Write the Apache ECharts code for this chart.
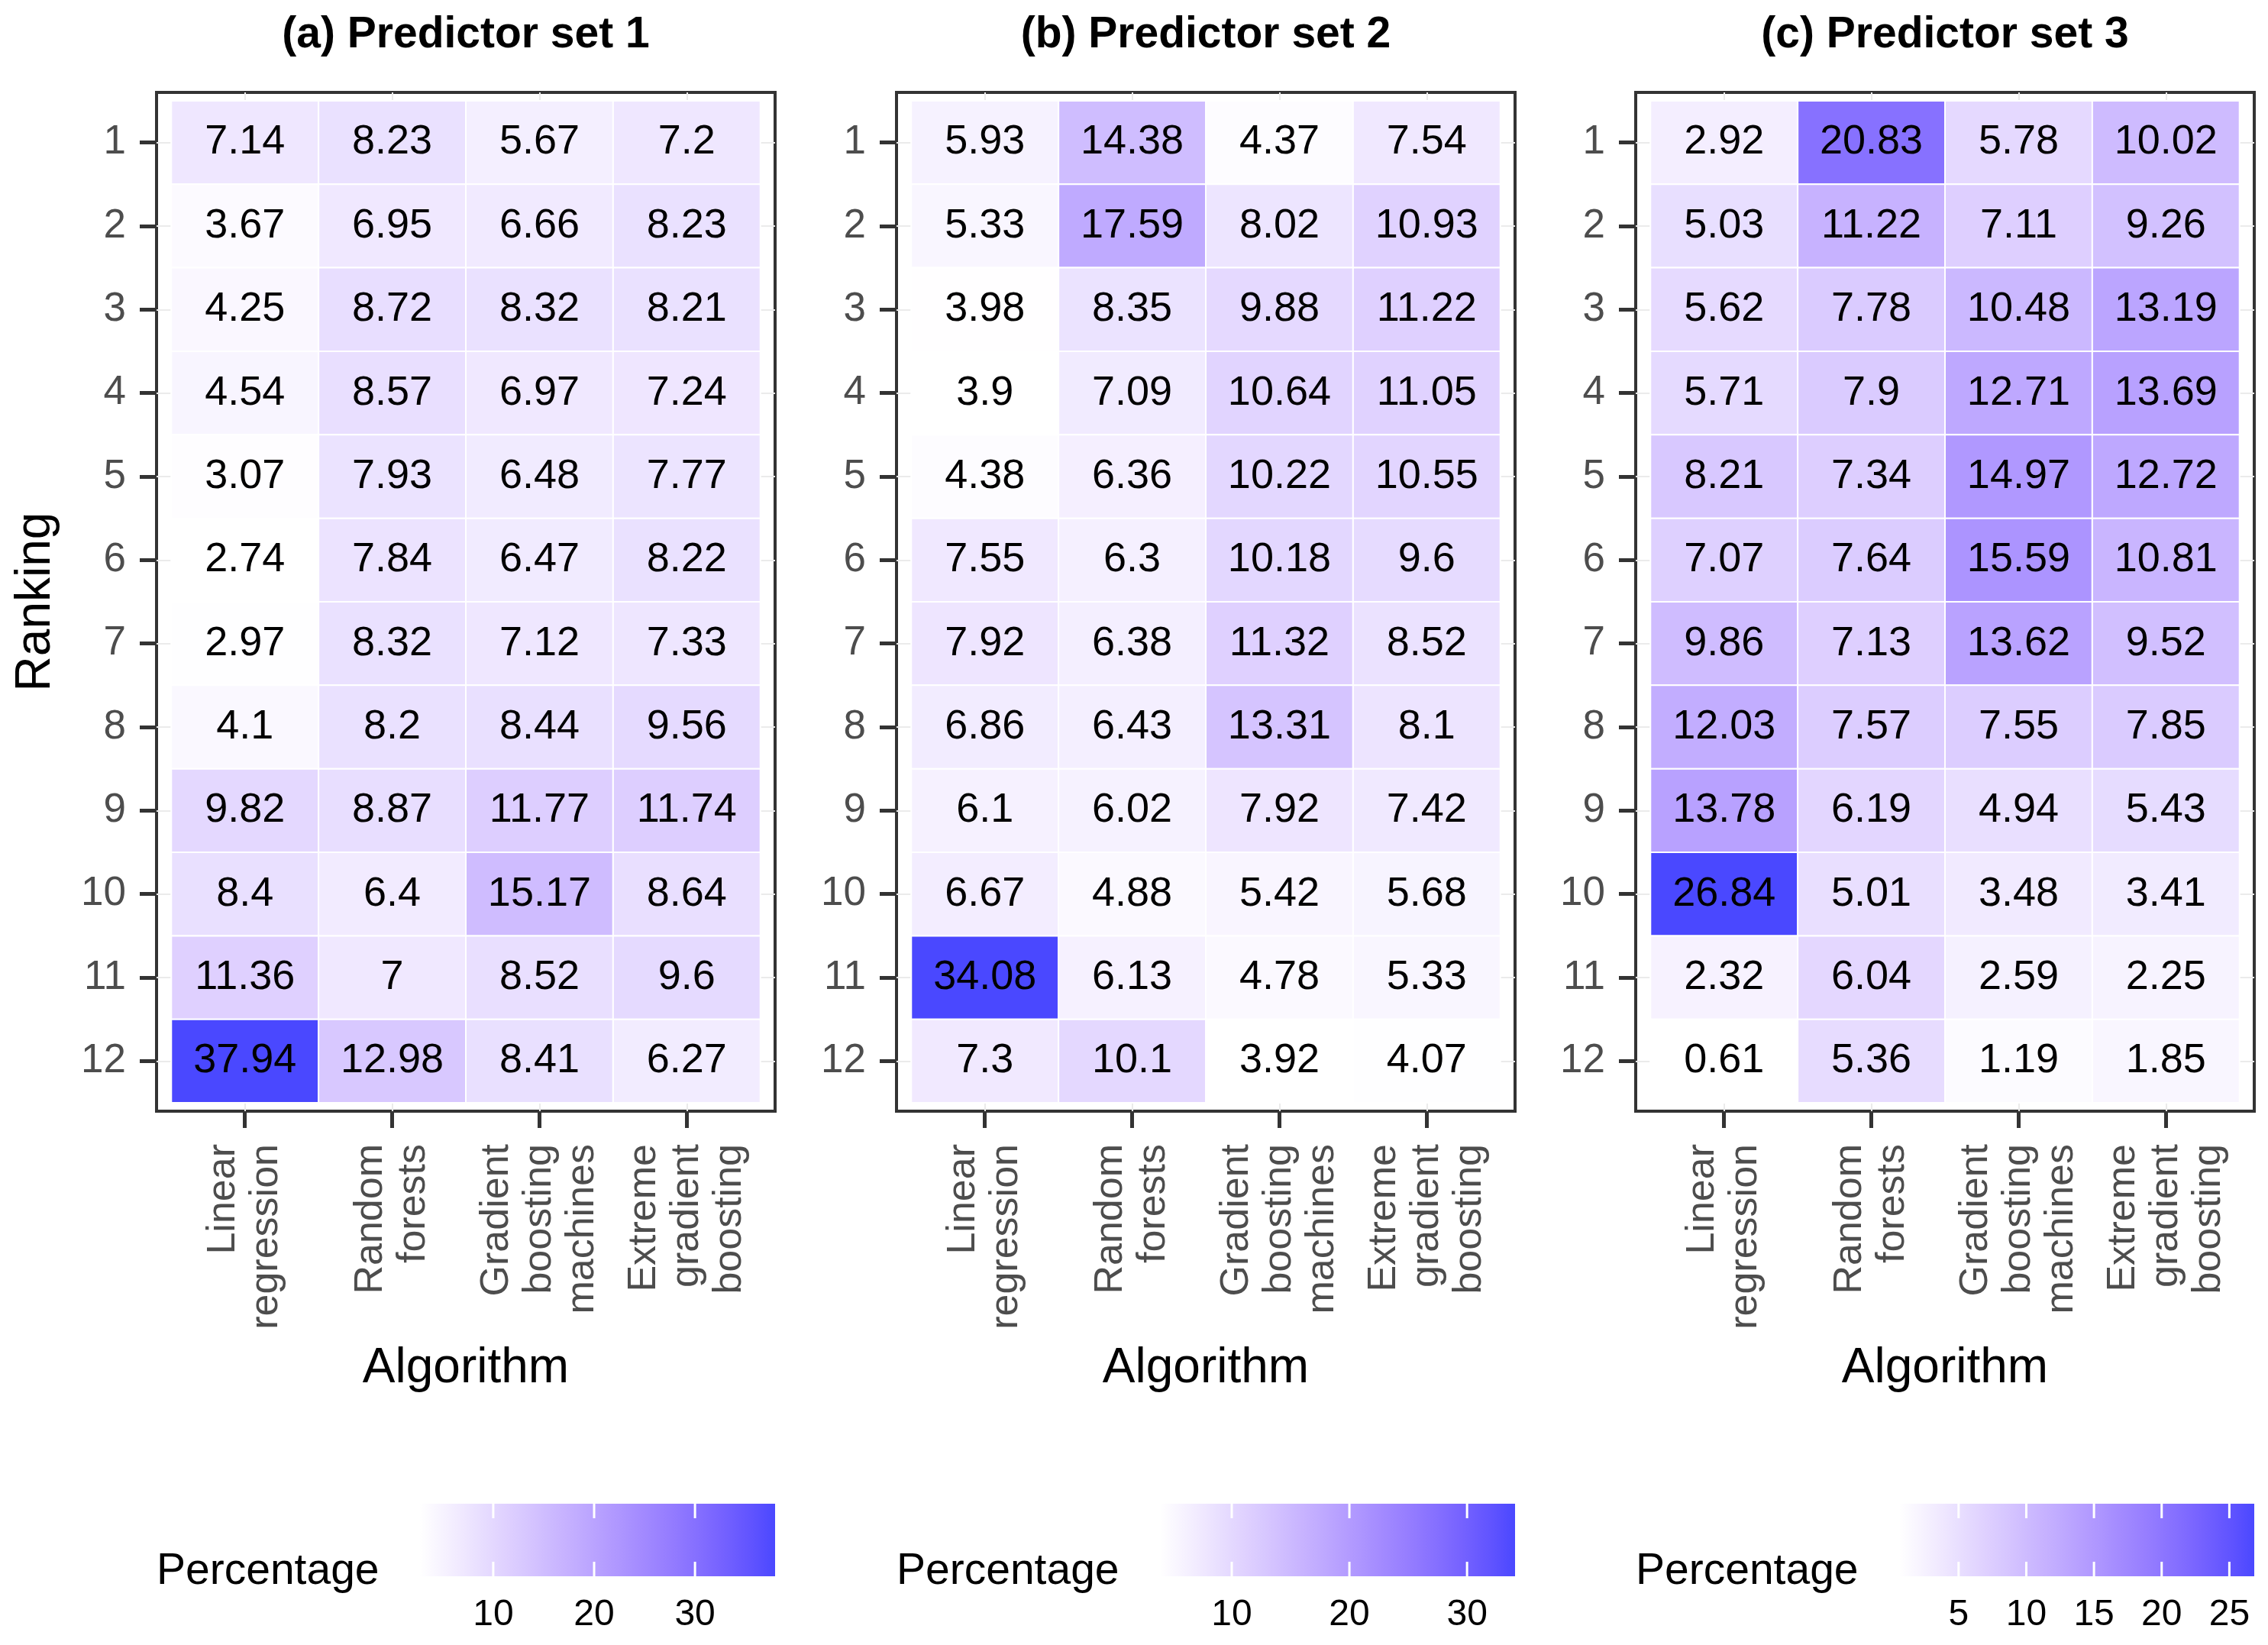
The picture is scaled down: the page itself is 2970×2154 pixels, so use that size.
<!DOCTYPE html>
<html><head><meta charset="utf-8">
<script src="https://cdn.jsdelivr.net/npm/echarts@6/dist/echarts.min.js"></script>
<style>html,body{margin:0;padding:0;background:#fff}#c{width:2970px;height:2154px}</style>
</head><body><div id="c"></div>
<script>
const FONT = 'Liberation Sans, Arial, Helvetica, sans-serif';
const panelTitles = ['(a) Predictor set 1', '(b) Predictor set 2', '(c) Predictor set 3'];
const algorithms = ['Linear\nregression', 'Random\nforests', 'Gradient\nboosting\nmachines', 'Extreme\ngradient\nboosting'];
const rankings = ['1','2','3','4','5','6','7','8','9','10','11','12'];
const legendTicks1 = [10, 20, 30];
const legendTicks2 = [10, 20, 30];
const legendTicks3 = [5, 10, 15, 20, 25];

// Predictor set 1 (rows = ranking 1..12)
const set1Linear = [7.14, 3.67, 4.25, 4.54, 3.07, 2.74, 2.97, 4.1, 9.82, 8.4, 11.36, 37.94];
const set1Random = [8.23, 6.95, 8.72, 8.57, 7.93, 7.84, 8.32, 8.2, 8.87, 6.4, 7, 12.98];
const set1Gbm    = [5.67, 6.66, 8.32, 6.97, 6.48, 6.47, 7.12, 8.44, 11.77, 15.17, 8.52, 8.41];
const set1Xgb    = [7.2, 8.23, 8.21, 7.24, 7.77, 8.22, 7.33, 9.56, 11.74, 8.64, 9.6, 6.27];
// Predictor set 2
const set2Linear = [5.93, 5.33, 3.98, 3.9, 4.38, 7.55, 7.92, 6.86, 6.1, 6.67, 34.08, 7.3];
const set2Random = [14.38, 17.59, 8.35, 7.09, 6.36, 6.3, 6.38, 6.43, 6.02, 4.88, 6.13, 10.1];
const set2Gbm    = [4.37, 8.02, 9.88, 10.64, 10.22, 10.18, 11.32, 13.31, 7.92, 5.42, 4.78, 3.92];
const set2Xgb    = [7.54, 10.93, 11.22, 11.05, 10.55, 9.6, 8.52, 8.1, 7.42, 5.68, 5.33, 4.07];
// Predictor set 3
const set3Linear = [2.92, 5.03, 5.62, 5.71, 8.21, 7.07, 9.86, 12.03, 13.78, 26.84, 2.32, 0.61];
const set3Random = [20.83, 11.22, 7.78, 7.9, 7.34, 7.64, 7.13, 7.57, 6.19, 5.01, 6.04, 5.36];
const set3Gbm    = [5.78, 7.11, 10.48, 12.71, 14.97, 15.59, 13.62, 7.55, 4.94, 3.48, 2.59, 1.19];
const set3Xgb    = [10.02, 9.26, 13.19, 13.69, 12.72, 10.81, 9.52, 7.85, 5.43, 3.41, 2.25, 1.85];

const sets = [
  [set1Linear, set1Random, set1Gbm, set1Xgb],
  [set2Linear, set2Random, set2Gbm, set2Xgb],
  [set3Linear, set3Random, set3Gbm, set3Xgb]
];
const legendTicks = [legendTicks1, legendTicks2, legendTicks3];

// ---- colour scale: white -> blue, interpolated in CIE Lab ----
function toLin(c) { c /= 255; return c <= 0.04045 ? c / 12.92 : Math.pow((c + 0.055) / 1.055, 2.4); }
function fromLin(c) { c = Math.max(0, Math.min(1, c)); return Math.round(255 * (c <= 0.0031308 ? 12.92 * c : 1.055 * Math.pow(c, 1 / 2.4) - 0.055)); }
const WX = 0.95047, WY = 1, WZ = 1.08883;
function hexToLab(hex) {
  const r = toLin(parseInt(hex.slice(1, 3), 16)), g = toLin(parseInt(hex.slice(3, 5), 16)), b = toLin(parseInt(hex.slice(5, 7), 16));
  const X = 0.4124 * r + 0.3576 * g + 0.1805 * b, Y = 0.2126 * r + 0.7152 * g + 0.0722 * b, Z = 0.0193 * r + 0.1192 * g + 0.9505 * b;
  const f = t => t > 0.008856 ? Math.cbrt(t) : 7.787 * t + 16 / 116;
  const fx = f(X / WX), fy = f(Y / WY), fz = f(Z / WZ);
  return [116 * fy - 16, 500 * (fx - fy), 200 * (fy - fz)];
}
function labToHex(L, a, b) {
  const fy = (L + 16) / 116, fx = fy + a / 500, fz = fy - b / 200;
  const finv = t => t * t * t > 0.008856 ? t * t * t : (t - 16 / 116) / 7.787;
  const X = WX * finv(fx), Y = WY * finv(fy), Z = WZ * finv(fz);
  const r = 3.2406 * X - 1.5372 * Y - 0.4986 * Z;
  const g = -0.9689 * X + 1.8758 * Y + 0.0415 * Z;
  const bb = 0.0557 * X - 0.2040 * Y + 1.0570 * Z;
  const h = v => fromLin(v).toString(16).padStart(2, '0');
  return '#' + h(r) + h(g) + h(bb);
}
const LOW = '#ffffff', HIGH = '#4a48ff';
const labLow = hexToLab(LOW), labHigh = hexToLab(HIGH);
const N_STOPS = 33;
const colorStops = [];
for (let i = 0; i < N_STOPS; i++) {
  const t = i / (N_STOPS - 1);
  colorStops.push(labToHex(labLow[0] + (labHigh[0] - labLow[0]) * t, labLow[1] + (labHigh[1] - labLow[1]) * t, labLow[2] + (labHigh[2] - labLow[2]) * t));
}

// ---- layout ----
const BOX_LEFT = [205, 1174, 2142];
const BOX_W = 810, BOX_TOP = 121, BOX_H = 1334;
const BAR_W = 465, BAR_TOP = 1969, BAR_H = 95, BAR_TICK = 19;

const grid = [], xAxis = [], yAxis = [], series = [], visualMap = [], graphic = [];

function tileRenderer(params, api) {
  const x = api.value(0), y = api.value(1), v = api.value(2);
  const p0 = api.coord([x - 0.5, y - 0.5]);
  const p1 = api.coord([x + 0.5, y + 0.5]);
  const c = api.coord([x, y]);
  return {
    type: 'group',
    children: [
      { type: 'rect', shape: { x: Math.min(p0[0], p1[0]), y: Math.min(p0[1], p1[1]), width: Math.abs(p1[0] - p0[0]), height: Math.abs(p1[1] - p0[1]) },
        style: { fill: api.visual('color'), stroke: '#ffffff', lineWidth: 2 } },
      { type: 'text', x: c[0], y: c[1],
        style: { text: String(v), align: 'center', verticalAlign: 'middle', fontSize: 54, fontFamily: FONT, fill: '#000000' } }
    ]
  };
}

const gradientFill = {
  type: 'linear', x: 0, y: 0, x2: 1, y2: 0,
  colorStops: colorStops.map((c, i) => ({ offset: i / (colorStops.length - 1), color: c }))
};

function makeBarRenderer(ticks) {
  return function (params, api) {
    const a = api.coord([api.value(0), 0]);
    const b = api.coord([api.value(1), 1]);
    const children = [{ type: 'rect', shape: { x: a[0], y: b[1], width: b[0] - a[0], height: a[1] - b[1] }, style: { fill: gradientFill } }];
    ticks.forEach(t => {
      const bt = api.coord([t, 0]), tp = api.coord([t, 1]);
      children.push({ type: 'line', shape: { x1: bt[0], y1: bt[1], x2: bt[0], y2: bt[1] - BAR_TICK }, style: { stroke: '#ffffff', lineWidth: 3 } });
      children.push({ type: 'line', shape: { x1: tp[0], y1: tp[1], x2: tp[0], y2: tp[1] + BAR_TICK }, style: { stroke: '#ffffff', lineWidth: 3 } });
    });
    return { type: 'group', children };
  };
}

// heatmap panels: grids 0..2
for (let p = 0; p < 3; p++) {
  const cols = sets[p];
  const data = [];
  let vmin = Infinity, vmax = -Infinity;
  cols.forEach((col, ci) => col.forEach((v, ri) => {
    data.push([ci + 1, ri + 1, v]);
    vmin = Math.min(vmin, v); vmax = Math.max(vmax, v);
  }));

  grid.push({ left: BOX_LEFT[p], top: BOX_TOP, width: BOX_W, height: BOX_H, show: true, borderColor: '#333333', borderWidth: 4, backgroundColor: '#ffffff', containLabel: false });
  xAxis.push({
    gridIndex: p, type: 'value', min: 0.4, max: 4.6, position: 'bottom',
    name: 'Algorithm', nameLocation: 'middle', nameGap: 305,
    nameTextStyle: { fontSize: 64, fontFamily: FONT, color: '#000000' },
    axisLine: { show: false, onZero: false },
    axisTick: { show: true, customValues: [1, 2, 3, 4], length: 22, lineStyle: { color: '#333333', width: 5 } },
    axisLabel: { customValues: [1, 2, 3, 4], formatter: v => algorithms[Math.round(v) - 1], rotate: 90, margin: 43,
      fontSize: 52, lineHeight: 56, fontFamily: FONT, color: '#4d4d4d' },
    splitLine: { show: true, lineStyle: { color: '#ebebeb', width: 2 } }
  });
  yAxis.push({
    gridIndex: p, type: 'value', min: 0.4, max: 12.6, inverse: true,
    name: p === 0 ? 'Ranking' : '', nameLocation: 'middle', nameGap: 126, nameRotate: 90,
    nameTextStyle: { fontSize: 64, fontFamily: FONT, color: '#000000' },
    axisLine: { show: false, onZero: false },
    axisTick: { show: true, customValues: rankings.map((r, i) => i + 1), length: 22, lineStyle: { color: '#333333', width: 5 } },
    axisLabel: { customValues: rankings.map((r, i) => i + 1), formatter: v => rankings[Math.round(v) - 1], margin: 40,
      fontSize: 53, fontFamily: FONT, color: '#4d4d4d' },
    splitLine: { show: true, lineStyle: { color: '#ebebeb', width: 2 } }
  });
  series.push({ type: 'custom', name: panelTitles[p], xAxisIndex: p, yAxisIndex: p, data: data, encode: { x: 0, y: 1 }, renderItem: tileRenderer, z: 2 });
  visualMap.push({ type: 'continuous', show: false, seriesIndex: p, dimension: 2, min: vmin, max: vmax, inRange: { color: colorStops } });

  graphic.push({ type: 'text', x: BOX_LEFT[p] + BOX_W / 2, y: 46,
    style: { text: panelTitles[p], align: 'center', verticalAlign: 'middle', fontSize: 57, fontWeight: 'bold', fontFamily: FONT, fill: '#000000' } });
  graphic.push({ type: 'text', x: BOX_LEFT[p], y: 2058,
    style: { text: 'Percentage', align: 'left', verticalAlign: 'middle', fontSize: 57, fontFamily: FONT, fill: '#000000' } });
}
// colour bars: grids 3..5
for (let p = 0; p < 3; p++) {
  const all = [].concat(...sets[p]);
  const vmin = Math.min(...all), vmax = Math.max(...all);
  grid.push({ left: BOX_LEFT[p] + BOX_W - BAR_W, top: BAR_TOP, width: BAR_W, height: BAR_H, show: false });
  xAxis.push({
    gridIndex: 3 + p, type: 'value', min: vmin, max: vmax, position: 'bottom',
    axisLine: { show: false, onZero: false },
    axisTick: { show: false },
    axisLabel: { customValues: legendTicks[p], margin: 27, fontSize: 48, fontFamily: FONT, color: '#000000' },
    splitLine: { show: false }
  });
  yAxis.push({ gridIndex: 3 + p, type: 'value', min: 0, max: 1, show: false });
  series.push({
    type: 'custom', xAxisIndex: 3 + p, yAxisIndex: 3 + p, data: [[vmin, vmax]], encode: { x: [0, 1] }, z: 1, silent: true,
    renderItem: makeBarRenderer(legendTicks[p])
  });
}

const chart = echarts.init(document.getElementById('c'), null, { renderer: 'canvas' });
chart.setOption({
  animation: false,
  backgroundColor: '#ffffff',
  textStyle: { fontFamily: FONT },
  grid, xAxis, yAxis, series, visualMap, graphic
});
</script></body></html>
